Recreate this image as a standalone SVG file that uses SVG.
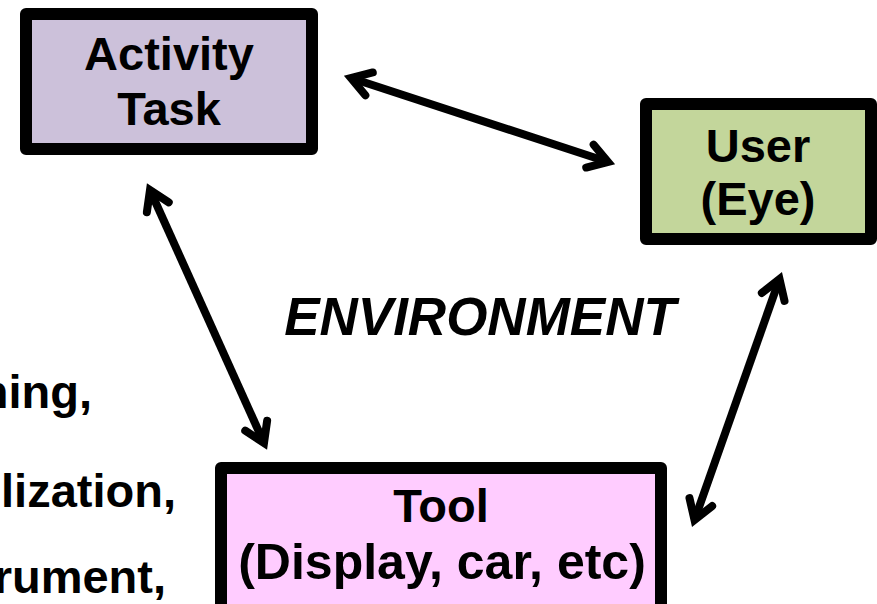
<svg xmlns="http://www.w3.org/2000/svg" width="877" height="604" viewBox="0 0 877 604">
  <defs>
    <style>
      .box { stroke: #000; stroke-width: 12; stroke-linejoin: round; }
      .lbl { font-family: "Liberation Sans", Arial, sans-serif; font-weight: bold; font-size: 47px; fill: #000; text-anchor: middle; }
      .side { font-family: "Liberation Sans", Arial, sans-serif; font-weight: bold; font-size: 47px; fill: #000; text-anchor: end; }
      .env { font-family: "Liberation Sans", Arial, sans-serif; font-weight: bold; font-style: italic; font-size: 53px; fill: #000; text-anchor: middle; }
      .conn { stroke: #000; stroke-width: 8; fill: none; marker-start: url(#chev); marker-end: url(#chev); }
    </style>
    <marker id="chev" markerUnits="userSpaceOnUse" viewBox="-30 -20 40 40" refX="0" refY="0" markerWidth="40" markerHeight="40" orient="auto-start-reverse" overflow="visible">
      <path d="M-19,-12 L0,0 L-19,12" fill="none" stroke="#000" stroke-width="8" stroke-linecap="round" stroke-linejoin="miter"/>
    </marker>
  </defs>
  <rect width="877" height="604" fill="#fff"/>

  <g id="connectors">
    <line class="conn" x1="351" y1="78" x2="608" y2="162"/>
    <line class="conn" x1="150" y1="190" x2="264" y2="443"/>
    <line class="conn" x1="779.5" y1="279" x2="694.5" y2="520"/>
  </g>

  <g id="activity-task">
    <rect class="box" x="26" y="14" width="286" height="135" fill="#ccc1da"/>
    <text class="lbl" x="169" y="70">Activity</text>
    <text class="lbl" x="169" y="125">Task</text>
  </g>

  <g id="user">
    <rect class="box" x="646" y="104" width="225" height="135" fill="#c3d69b"/>
    <text class="lbl" x="758" y="162">User</text>
    <text class="lbl" x="758" y="215">(Eye)</text>
  </g>

  <g id="tool">
    <rect class="box" x="221" y="468" width="440" height="150" fill="#ffccff"/>
    <text class="lbl" x="441" y="522">Tool</text>
    <text class="lbl" x="442" y="579" style="font-size:50px">(Display, car, etc)</text>
  </g>

  <g id="environment">
    <text class="env" x="480" y="335">ENVIRONMENT</text>
  </g>

  <g id="side-text">
    <text class="side" x="92" y="408">hing,</text>
    <text class="side" x="176" y="507">lization,</text>
    <text class="side" x="166" y="593">rument,</text>
  </g>
</svg>
